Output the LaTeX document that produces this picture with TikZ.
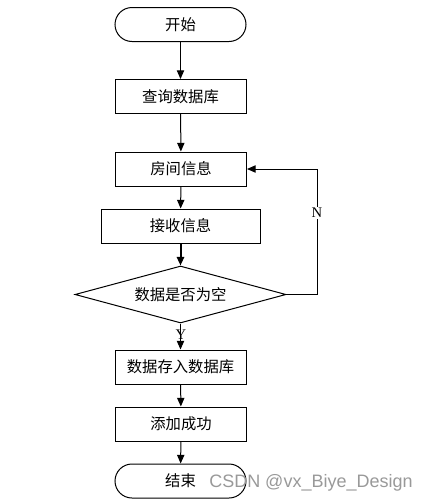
\documentclass[tikz,border=0pt]{standalone}
\usepackage{fontspec}
\setmainfont{Liberation Serif}
\newfontfamily\cjk{Noto Sans CJK SC}
\newfontfamily\wmfont{Liberation Sans}
\usetikzlibrary{shapes.geometric,arrows.meta}

\begin{document}
\begin{tikzpicture}[x=0.75pt,y=0.75pt,yscale=-1,xscale=1,
    proc/.style={draw,line width=0.75pt,minimum width=98.25pt,minimum height=25.5pt,inner sep=0pt,font=\cjk\fontsize{11.5}{13}\selectfont},
    term/.style={proc,rounded corners=12.75pt},
    decide/.style={draw,diamond,aspect=3.7,line width=0.75pt,minimum width=158.25pt,minimum height=42.75pt,inner sep=0pt,font=\cjk\fontsize{11.5}{13}\selectfont},
    flow/.style={line width=0.75pt,-{Triangle[length=6.5pt,width=5.5pt]}},
    lbl/.style={inner sep=0.75pt,font=\fontsize{11}{13}\selectfont}]
                                \useasboundingbox (0,0) rectangle (430,504);
                                \node [term] (start) at (180.5,24.5) {开始};
                                \node [proc] (query) at (180.5,96.5) {查询数据库};
                                \node [proc] (room) at (181,169) {房间信息};
                                \node [proc,minimum width=119.25pt] (recv) at (180.5,226) {接收信息};
                                \node [decide] (check) at (180.5,294.5) {数据是否为空};
                                \node [proc] (store) at (180.5,367) {数据存入数据库};
                                \node [proc] (added) at (181,424) {添加成功};
                                \node [term] (finish) at (180.5,481) {结束};
                                \coordinate (bend) at (317,169);
                                \draw [flow] (start) -- (query);
                                \draw [flow] (query) -- (room);
                                \draw [flow] (room) -- (recv);
                                \draw [flow,line width=1.5pt] (recv) -- (check);
                                \draw [flow] (check) -- (store);
                                \draw [flow] (store) -- (added);
                                \draw [flow] (added) -- (finish);
                                \draw [flow] (check.east) -| (bend) -- (room.east);
                                \node [lbl,fill=white] (nlab) at (317,213) {N};
                                \node [lbl] (ylab) at (181,335) {Y};
                                \node [anchor=west,inner sep=0pt,text=black!40,font=\wmfont\fontsize{13.5}{16}\selectfont] (mark) at (209,483) {CSDN @vx\_Biye\_Design};
                            \end{tikzpicture}
\end{document}
